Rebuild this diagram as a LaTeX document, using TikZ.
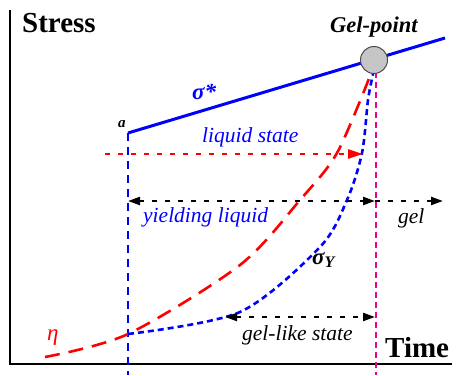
\documentclass[tikz,border=0pt]{standalone}
\usepackage{fontspec}
\setmainfont{Liberation Serif}
\usetikzlibrary{positioning,arrows.meta}

\tikzset{
  axis/.style={line width=1.8pt},
  biglabel/.style={font=\bfseries\fontsize{29}{32}\selectfont, inner sep=0pt, anchor=base west},
  statelabel/.style={font=\itshape\fontsize{21.5}{24}\selectfont, inner sep=0pt, anchor=base west},
  headtip/.style={-{Triangle[length=12pt,width=8pt]}},
  bothtips/.style={{Triangle[length=12pt,width=8pt]}-{Triangle[length=12pt,width=8pt]}},
  blackdots/.style={line width=2.2pt, dash pattern=on 5pt off 8pt},
}

\begin{document}
\begin{tikzpicture}[x=1pt,y=-1pt]
  \useasboundingbox (0,0) rectangle (474,375);

  % axes
  \coordinate (ytop) at (10,10);
  \coordinate (origin) at (10,364);
  \coordinate (xend) at (452,364);
  \draw[axis] (ytop) -- (origin) -- (xend);
  \node[biglabel] (stress) at (22,32) {Stress};
  \node[biglabel] (time) at (385,357) {Time};

  % key points
  \coordinate (a) at (128,133);
  \coordinate (abot) at (128,375);
  \coordinate (sigend) at (445,38);
  \coordinate (astart) at (128,334);
  \coordinate (gtop) at (376,72);
  \coordinate (gbot) at (376,375);

  % vertical guides
  \draw[blue, line width=2pt, dash pattern=on 8pt off 6pt] (a) -- (abot);
  \draw[magenta, line width=1.6pt, dash pattern=on 6pt off 4pt] (gtop) -- (gbot);

  % eta and sigma_Y
  \draw[red, line width=2.6pt, dash pattern=on 15pt off 9pt]
    plot[smooth] coordinates {(45,357) (astart) (240,265) (300,200) (337,153) (370,76)};
  \draw[blue, line width=2.6pt, dash pattern=on 6pt off 4pt]
    plot[smooth] coordinates {(astart) (240,312) (320,247) (347,200) (362,153) (368,100) (373,74)};

  % sigma*
  \draw[blue, line width=3pt] (a) -- (sigend);
  \node[circle, draw=gray!60!black, fill=gray!45, line width=1pt,
        minimum size=27pt, inner sep=0pt] (gelpt) at (374,60) {};
  \node[font=\bfseries\itshape\fontsize{22.5}{26}\selectfont, inner sep=0pt, anchor=base west]
    (gellbl) at (330,32) {Gel-point};
  \node[font=\bfseries\itshape\fontsize{15}{18}\selectfont, inner sep=0pt, anchor=base west]
    (alabel) at (118,127) {a};
  \node[blue, font=\bfseries\itshape\fontsize{23}{26}\selectfont, inner sep=0pt, anchor=base west]
    (sigstar) at (192,99) {σ*};

  % state arrows
  \coordinate (lqL) at (105,154);
  \coordinate (lqR) at (363,154);
  \draw[red, line width=2.2pt, dash pattern=on 5pt off 8pt,
        -{Triangle[length=15pt,width=9pt]}] (lqL) -- (lqR);
  \node[statelabel, blue] (liquid) at (202,142) {liquid state};

  \coordinate (ylL) at (128,201);
  \coordinate (ylR) at (375,201);
  \coordinate (gelR) at (443,201);
  \draw[blackdots, bothtips] (ylL) -- (ylR);
  \draw[blackdots, headtip] (ylR) -- (gelR);
  \node[statelabel, blue] (yielding) at (143,222) {yielding liquid};
  \node[statelabel] (gel) at (398,223) {gel};

  \coordinate (glL) at (225,317);
  \coordinate (glR) at (375,317);
  \draw[blackdots, bothtips] (glL) -- (glR);
  \node[statelabel] (gellike) at (242,340) {gel-like state};

  % curve labels
  \node[red, font=\itshape\fontsize{23}{26}\selectfont, inner sep=0pt, anchor=base west]
    (eta) at (47,340) {η};
  \node[font=\bfseries\itshape\fontsize{23}{26}\selectfont, inner sep=0pt, anchor=base west]
    (sigY) at (312,264) {σ\textsubscript{Y}};
\end{tikzpicture}
\end{document}
